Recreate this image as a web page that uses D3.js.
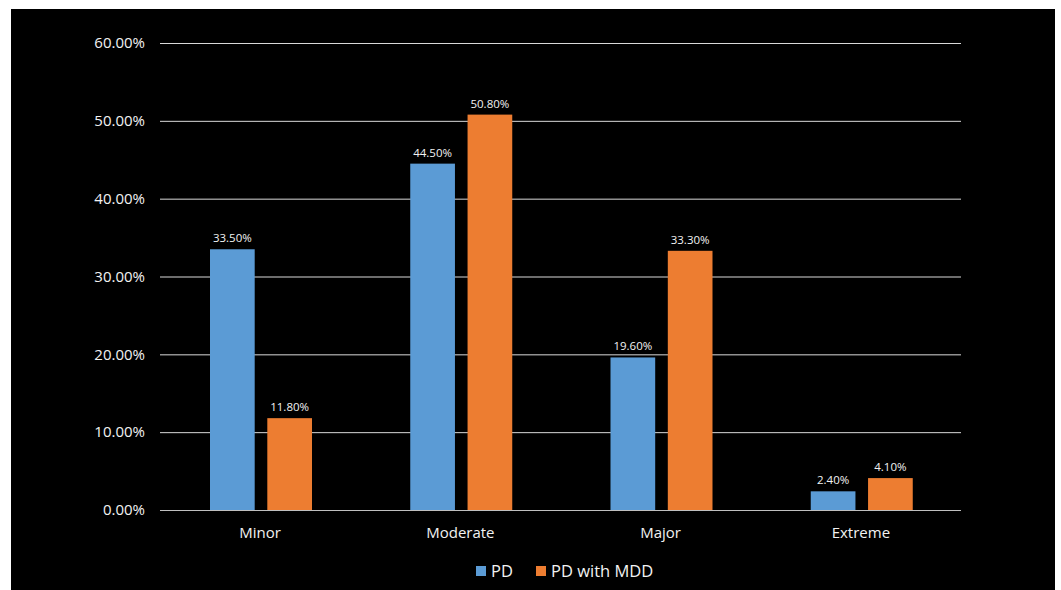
<!DOCTYPE html>
<html>
<head>
<meta charset="utf-8">
<script src="https://cdn.jsdelivr.net/npm/d3@7"></script>
<style>
  html, body { margin: 0; padding: 0; background: #ffffff; }
  svg { display: block; }
</style>
</head>
<body>
<svg id="chart" width="1061" height="590"></svg>
<script>
// Severity categories and the two series (percent)
const categories = ["Minor", "Moderate", "Major", "Extreme"];
const pdValues = [33.5, 44.5, 19.6, 2.4];
const pdMddValues = [11.8, 50.8, 33.3, 4.1];
const seriesNames = ["PD", "PD with MDD"];
const yTicks = [0, 10, 20, 30, 40, 50, 60];

const colors = ["#5b9bd5", "#ed7d31"];
const font = "'Open Sans', 'Noto Sans', sans-serif";

const svg = d3.select("#chart");

// black panel
svg.append("rect")
  .attr("x", 11).attr("y", 9)
  .attr("width", 1044).attr("height", 581)
  .attr("fill", "#000000");

const margin = { left: 160, right: 961, top: 43, bottom: 510 };

const x = d3.scaleBand()
  .domain(categories)
  .range([margin.left, margin.right])
  .paddingInner(0).paddingOuter(0);

const groupWidth = 102;
const xSeries = d3.scaleBand()
  .domain(seriesNames)
  .range([0, groupWidth])
  .paddingInner(0.22);

const y = d3.scaleLinear()
  .domain([0, 60])
  .range([margin.bottom, margin.top]);

// gridlines
svg.append("g")
  .selectAll("line")
  .data(yTicks)
  .join("line")
  .attr("x1", margin.left).attr("x2", margin.right)
  .attr("y1", d => y(d) + 0.5).attr("y2", d => y(d) + 0.5)
  .attr("stroke", d => d === 0 ? "#bfbfbf" : "#d9d9d9")
  .attr("stroke-width", 1);

// y tick labels
svg.append("g")
  .selectAll("text")
  .data(yTicks)
  .join("text")
  .attr("x", 145)
  .attr("y", d => y(d))
  .attr("dy", "0.35em")
  .attr("text-anchor", "end")
  .attr("fill", "#f2f2f2")
  .attr("font-family", font)
  .attr("font-size", 15)
  .text(d => d.toFixed(2) + "%");

// x category labels
svg.append("g")
  .selectAll("text")
  .data(categories)
  .join("text")
  .attr("x", d => x(d) + x.bandwidth() / 2)
  .attr("y", 538)
  .attr("text-anchor", "middle")
  .attr("fill", "#f2f2f2")
  .attr("font-family", font)
  .attr("font-size", 15)
  .text(d => d);

// bars
const rows = categories.map((c, i) => ({
  category: c,
  values: [
    { name: seriesNames[0], value: pdValues[i], color: colors[0] },
    { name: seriesNames[1], value: pdMddValues[i], color: colors[1] }
  ]
}));

const groups = svg.append("g")
  .selectAll("g")
  .data(rows)
  .join("g")
  .attr("transform", d => `translate(${x(d.category) + 50},0)`);

groups.selectAll("rect")
  .data(d => d.values)
  .join("rect")
  .attr("x", d => xSeries(d.name))
  .attr("y", d => y(d.value))
  .attr("width", xSeries.bandwidth())
  .attr("height", d => y(0) - y(d.value))
  .attr("fill", d => d.color);

groups.selectAll("text")
  .data(d => d.values)
  .join("text")
  .attr("x", d => xSeries(d.name) + xSeries.bandwidth() / 2)
  .attr("y", d => y(d.value) - 7)
  .attr("text-anchor", "middle")
  .attr("fill", "#f2f2f2")
  .attr("font-family", font)
  .attr("font-size", 11.5)
  .text(d => d.value.toFixed(2) + "%");

// legend
const legendItems = [
  { name: seriesNames[0], color: colors[0], x: 476 },
  { name: seriesNames[1], color: colors[1], x: 536 }
];
const legend = svg.append("g")
  .selectAll("g")
  .data(legendItems)
  .join("g")
  .attr("transform", d => `translate(${d.x},571)`);
legend.append("rect")
  .attr("x", 0).attr("y", -5)
  .attr("width", 10).attr("height", 10)
  .attr("fill", d => d.color);
legend.append("text")
  .attr("x", 15)
  .attr("y", 0)
  .attr("dy", "0.36em")
  .attr("fill", "#f2f2f2")
  .attr("font-family", font)
  .attr("font-size", 16.5)
  .text(d => d.name);
</script>
</body>
</html>
